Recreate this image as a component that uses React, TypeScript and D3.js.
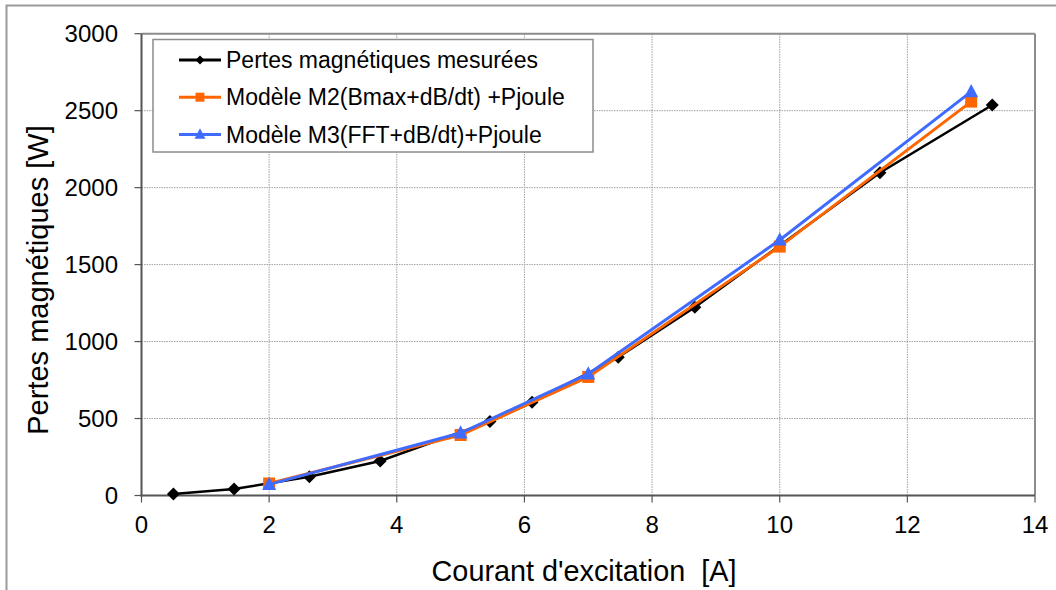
import React from "react";
import * as d3 from "d3";

const measuredX = [0.5, 1.45, 2.63, 3.74, 5.46, 6.12, 7.47, 8.67, 11.57, 13.33];
const measuredY = [10, 42, 122, 224, 480, 605, 898, 1223, 2097, 2537];
const m2X = [2, 5, 7, 10, 13];
const m2Y = [78, 393, 770, 1617, 2559];
const m3X = [2, 5, 7, 10, 13];
const m3Y = [72, 406, 790, 1660, 2624];
const xTicks = [0, 2, 4, 6, 8, 10, 12, 14];
const yTicks = [0, 500, 1000, 1500, 2000, 2500, 3000];
const legendLabels = [
  "Pertes magnétiques mesurées",
  "Modèle M2(Bmax+dB/dt) +Pjoule",
  "Modèle M3(FFT+dB/dt)+Pjoule",
];
const xTitle = "Courant d'excitation  [A]";
const yTitle = "Pertes magnétiques [W]";

const FONT = "'Liberation Sans', Arial, Helvetica, sans-serif";
const BLACK = "#000000";
const ORANGE = "#FF6600";
const BLUE = "#3F6CFF";

function Marker({ kind, x, y, s, color }: { kind: string; x: number; y: number; s: number; color: string }) {
  if (kind === "diamond") {
    const h = s / 2;
    return <path d={`M${x},${y - h}L${x + h},${y}L${x},${y + h}L${x - h},${y}Z`} fill={color} />;
  }
  if (kind === "square") {
    return <rect x={x - s / 2} y={y - s / 2} width={s} height={s} fill={color} />;
  }
  const h = s / 2;
  return <path d={`M${x},${y - h * 1.1}L${x + h},${y + h * 0.8}L${x - h},${y + h * 0.8}Z`} fill={color} />;
}

export default function App() {
  const W = 1056, H = 590;
  const x0 = 141.5, x1 = 1035;
  const y0 = 495.5, y1 = 33.7;
  const x = d3.scaleLinear().domain([0, 14]).range([x0, x1]);
  const y = d3.scaleLinear().domain([0, 3000]).range([y0, y1]);
  const line = d3.line<[number, number]>().x((d) => x(d[0])).y((d) => y(d[1]));

  const series = [
    { xs: measuredX, ys: measuredY, color: BLACK, kind: "diamond", size: 13, width: 2.5 },
    { xs: m2X, ys: m2Y, color: ORANGE, kind: "square", size: 12, width: 3 },
    { xs: m3X, ys: m3Y, color: BLUE, kind: "triangle", size: 14, width: 3 },
  ];

  return (
    <svg width={W} height={H} style={{ display: "block", position: "absolute", left: 0, top: 0 }}>
      <rect x={0} y={0} width={W} height={H} fill="#fff" />
      {/* outer frame */}
      <rect x={6.5} y={5.5} width={W + 20} height={H + 20} fill="none" stroke="#9a9a9a" strokeWidth={2} />
      {/* grid */}
      {xTicks.slice(1, -1).map((t) => (
        <line key={"gx" + t} x1={x(t)} x2={x(t)} y1={y0} y2={y1} stroke="#a0a0a0" strokeWidth={1} strokeDasharray="1.5,1" />
      ))}
      {yTicks.slice(1, -1).map((t) => (
        <line key={"gy" + t} x1={x0} x2={x1} y1={y(t)} y2={y(t)} stroke="#a0a0a0" strokeWidth={1} strokeDasharray="1.5,1" />
      ))}
      {/* plot border top/right */}
      <line x1={x0} x2={x1} y1={y1} y2={y1} stroke="#8c8c8c" strokeWidth={2} />
      <line x1={x1} x2={x1} y1={y1} y2={y0} stroke="#8c8c8c" strokeWidth={2} />
      {/* axes */}
      <line x1={x0} x2={x0} y1={y1} y2={y0 + 1} stroke="#555" strokeWidth={2} />
      <line x1={x0 - 1} x2={x1} y1={y0} y2={y0} stroke="#555" strokeWidth={2} />
      {yTicks.map((t) => (
        <g key={"yt" + t}>
          <line x1={x0 - 7} x2={x0} y1={y(t)} y2={y(t)} stroke="#555" strokeWidth={1.2} />
          <text x={118} y={y(t)} dy="0.36em" textAnchor="end" fontFamily={FONT} fontSize={24} fill="#000">
            {t}
          </text>
        </g>
      ))}
      {xTicks.map((t) => (
        <g key={"xt" + t}>
          <line x1={x(t)} x2={x(t)} y1={y0} y2={y0 + 7} stroke="#555" strokeWidth={1.2} />
          <text x={x(t)} y={532.5} textAnchor="middle" fontFamily={FONT} fontSize={24} fill="#000">
            {t}
          </text>
        </g>
      ))}
      <text x={584} y={580.5} textAnchor="middle" fontFamily={FONT} fontSize={28.8} fill="#000" style={{ whiteSpace: "pre" }}>
        {xTitle}
      </text>
      <text transform="translate(48,280) rotate(-90)" textAnchor="middle" fontFamily={FONT} fontSize={29} fill="#000">
        {yTitle}
      </text>
      {/* series */}
      {series.map((s, i) => {
        const pts = s.xs.map((v, j) => [v, s.ys[j]] as [number, number]);
        return (
          <g key={"s" + i}>
            <path d={line(pts) || ""} fill="none" stroke={s.color} strokeWidth={s.width} />
            {pts.map((p, j) => (
              <Marker key={j} kind={s.kind} x={x(p[0])} y={y(p[1])} s={s.size} color={s.color} />
            ))}
          </g>
        );
      })}
      {/* legend */}
      <rect x={153} y={39.5} width={440} height={112.5} fill="#fff" stroke="#8c8c8c" strokeWidth={1.5} />
      {legendLabels.map((lab, i) => {
        const ly = 60 + i * 37.2;
        const s = series[i];
        return (
          <g key={"l" + i}>
            <line x1={179} x2={221} y1={ly} y2={ly} stroke={s.color} strokeWidth={3} />
            <Marker kind={s.kind} x={200} y={ly} s={s.kind === "triangle" ? 11 : 9} color={s.color} />
            <text x={226} y={ly} dy="0.36em" fontFamily={FONT} fontSize={23} fill="#000">
              {lab}
            </text>
          </g>
        );
      })}
    </svg>
  );
}
